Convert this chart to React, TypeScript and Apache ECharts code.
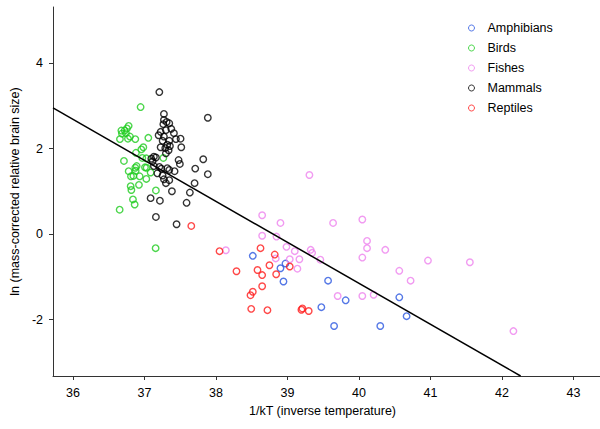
import React, { useEffect, useRef } from "react";
import * as echarts from "echarts";

const seriesNames = ["Amphibians", "Birds", "Fishes", "Mammals", "Reptiles"];
const seriesColors = ["#2b56e0", "#1fcc1f", "#ee82ee", "#000000", "#ff1a1a"];

const amphibiansX = [38.514, 38.971, 38.901, 38.943, 39.567, 39.813, 39.473, 39.651, 40.297, 40.563, 40.665];
const amphibiansY = [-0.51, -0.69, -0.8, -1.11, -1.09, -1.55, -1.71, -2.15, -2.15, -1.48, -1.92];

const birdsX = [36.945, 36.778, 36.754, 36.722, 36.676, 36.74, 36.796, 36.656, 36.871, 36.768, 37.053, 36.983, 36.955, 36.88, 36.969, 36.712, 37.263, 36.89, 36.871, 37.006, 36.778, 36.876, 37.085, 36.844, 36.932, 36.81, 37.025, 36.922, 36.806, 36.816, 37.159, 36.838, 36.862, 36.652, 37.155, 37.029, 36.684, 37.025];
const birdsY = [2.97, 2.53, 2.47, 2.42, 2.42, 2.36, 2.28, 2.22, 2.22, 2.23, 2.25, 2.03, 1.98, 1.9, 1.78, 1.71, 1.78, 1.59, 1.55, 1.56, 1.47, 1.48, 1.44, 1.36, 1.35, 1.35, 1.29, 1.15, 1.12, 1.03, 1.02, 0.81, 0.69, 0.57, -0.33, 1.55, 2.35, 1.77];

const fishesX = [39.306, 38.645, 38.901, 39.637, 40.046, 38.645, 38.845, 40.112, 40.112, 40.367, 38.985, 39.101, 39.324, 39.344, 38.137, 38.835, 39.031, 39.166, 39.459, 40.046, 39.138, 40.563, 39.701, 40.046, 40.204, 40.964, 41.55, 40.721, 42.159];
const fishesY = [1.38, 0.44, 0.26, 0.26, 0.34, -0.04, -0.06, -0.16, -0.33, -0.37, -0.3, -0.4, -0.37, -0.44, -0.38, -0.57, -0.59, -0.59, -0.6, -0.55, -0.81, -0.86, -1.45, -1.45, -1.42, -0.62, -0.66, -1.09, -2.27];

const mammalsX = [37.207, 37.885, 37.271, 37.271, 37.309, 37.346, 37.263, 37.374, 37.299, 37.225, 37.411, 37.197, 37.271, 37.504, 37.439, 37.346, 37.253, 37.318, 37.355, 37.225, 37.29, 37.514, 37.337, 37.299, 37.476, 37.494, 37.821, 37.131, 37.095, 37.159, 37.113, 37.131, 37.207, 37.235, 37.318, 37.346, 37.42, 37.709, 37.179, 37.253, 37.271, 37.346, 37.299, 37.885, 37.7, 37.383, 37.634, 37.085, 37.215, 37.588, 37.159, 37.448];
const mammalsY = [3.32, 2.72, 2.81, 2.67, 2.62, 2.59, 2.57, 2.46, 2.43, 2.39, 2.36, 2.31, 2.28, 2.23, 2.22, 2.18, 2.18, 2.09, 2.06, 2.03, 2.01, 2.03, 1.96, 1.89, 1.73, 1.64, 1.75, 1.81, 1.76, 1.79, 1.7, 1.59, 1.57, 1.53, 1.54, 1.5, 1.47, 1.53, 1.42, 1.37, 1.28, 1.26, 1.19, 1.4, 1.19, 1.0, 0.97, 0.84, 0.78, 0.73, 0.4, 0.23];

const reptilesX = [37.654, 38.049, 38.622, 38.821, 38.747, 38.286, 38.58, 38.645, 39.031, 38.841, 38.645, 38.514, 38.482, 38.492, 38.719, 39.194, 39.208, 39.296];
const reptilesY = [0.19, -0.4, -0.33, -0.48, -0.73, -0.87, -0.84, -0.96, -0.76, -0.94, -1.22, -1.35, -1.43, -1.75, -1.78, -1.77, -1.74, -1.8];

const fitX = [35.72, 42.26];
const fitY = [2.95, -3.32];

const xTicks = [36, 37, 38, 39, 40, 41, 42, 43];
const yTicks = [-2, 0, 2, 4];

const xTitle = "1/kT (inverse temperature)";
const yTitle = "ln (mass-corrected relative brain size)";

const allX = [amphibiansX, birdsX, fishesX, mammalsX, reptilesX];
const allY = [amphibiansY, birdsY, fishesY, mammalsY, reptilesY];

const FONT = "'Liberation Sans', Arial, Helvetica, sans-serif";

export default function App() {
  const ref = useRef<HTMLDivElement>(null);
  useEffect(() => {
    if (!ref.current) return;
    const chart = echarts.init(ref.current, null, { renderer: "svg" });
    const zip = (xs: number[], ys: number[]) => xs.map((x, i) => [x, ys[i]]);
    const axisCommon = {
      type: "value" as const,
      splitLine: { show: false },
      axisLine: { show: true, onZero: false, lineStyle: { color: "#333", width: 1 } },
      axisTick: { show: true, inside: false, length: 4, lineStyle: { color: "#333" } },
      axisLabel: { color: "#000", fontSize: 12.5, fontFamily: FONT, margin: 10 },
      nameLocation: "middle" as const,
      nameTextStyle: { color: "#000", fontSize: 12.5, fontFamily: FONT },
    };
    chart.setOption({
      animation: false,
      backgroundColor: "#fff",
      grid: { left: 52, top: 7, right: 0, bottom: 53, containLabel: false },
      legend: {
        orient: "vertical",
        left: 463,
        top: 16,
        itemWidth: 6,
        itemHeight: 6,
        itemGap: 6,
        data: seriesNames,
        itemStyle: { borderWidth: 1 },
        textStyle: { fontSize: 12.5, fontFamily: FONT, color: "#000", lineHeight: 14, padding: [0, 0, 0, 8] },
      },
      xAxis: {
        ...axisCommon,
        min: 35.72,
        max: 43.37,
        name: xTitle,
        nameGap: 28,
        nameTextStyle: { ...axisCommon.nameTextStyle, padding: [0, 8, 0, 0] },
        axisTick: { ...axisCommon.axisTick, customValues: xTicks },
        axisLabel: { ...axisCommon.axisLabel, customValues: xTicks },
      },
      yAxis: {
        ...axisCommon,
        min: -3.32,
        max: 5.31,
        name: yTitle,
        nameGap: 32,
        axisTick: { ...axisCommon.axisTick, customValues: yTicks },
        axisLabel: { ...axisCommon.axisLabel, customValues: yTicks },
      },
      series: [
        ...seriesNames.map((name, i) => ({
          name,
          type: "scatter",
          symbol: "circle",
          symbolSize: 6.5,
          data: zip(allX[i], allY[i]),
          itemStyle: { color: "rgba(255,255,255,0)", borderColor: seriesColors[i], borderWidth: 1.4 },
          emphasis: { disabled: true },
        })),
        {
          name: "fit",
          type: "line",
          data: zip(fitX, fitY),
          symbol: "none",
          lineStyle: { color: "#000", width: 1.5 },
          emphasis: { disabled: true },
        },
      ],
    });
    return () => chart.dispose();
  }, []);
  return (
    <div
      ref={ref}
      style={{ position: "fixed", left: 0, top: 0, width: 600, height: 429 }}
    />
  );
}
